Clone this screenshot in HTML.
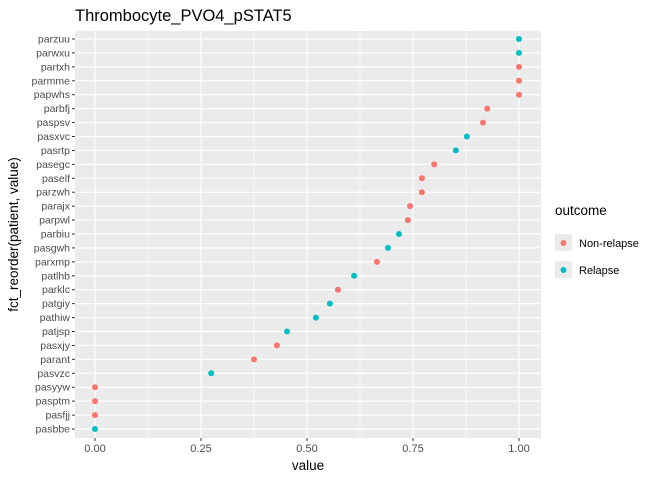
<!DOCTYPE html>
<html><head><meta charset="utf-8"><style>
body{margin:0;background:#fff;}
svg{display:block;font-family:"Liberation Sans",Arial,sans-serif;}
</style></head><body>
<svg id="chart" width="672" height="480"></svg>
<script>
const patients=["parzuu","parwxu","partxh","parmme","papwhs","parbfj","paspsv","pasxvc","pasrtp","pasegc","paself","parzwh","parajx","parpwl","parbiu","pasgwh","parxmp","patlhb","parklc","patgiy","pathiw","patjsp","pasxjy","parant","pasvzc","pasyyw","pasptm","pasfjj","pasbbe"];
const values=[1,1,1,1,1,0.925,0.915,0.877,0.851,0.80,0.771,0.771,0.743,0.738,0.717,0.691,0.665,0.611,0.573,0.554,0.521,0.453,0.429,0.375,0.274,0,0,0,0];
const outcomes=["R","R","N","N","N","N","N","R","R","N","N","N","N","N","R","R","N","R","N","R","R","R","N","N","R","N","N","N","R"];
const xTicks=[0,0.25,0.5,0.75,1];
const xTickLabels=["0.00","0.25","0.50","0.75","1.00"];
const colors={N:"#F8766D",R:"#00BFC4"};
const NS="http://www.w3.org/2000/svg";
const svg=document.getElementById('chart');
const L=75,R=541,T=31,B=438;
const x=v=>95+v*424;
const y=i=>39+i*(429-39)/(patients.length-1);
function mk(tag,attrs,parent){const e=document.createElementNS(NS,tag);for(const k in attrs)e.setAttribute(k,attrs[k]);(parent||svg).appendChild(e);return e;}
let e=mk('rect',{x:L,y:T,width:R-L,height:B-T,fill:'#EBEBEB'});


for(let i=0;i<xTicks.length-1;i++){const m=(xTicks[i]+xTicks[i+1])/2;
 e=mk('line',{x1:x(m),x2:x(m),y1:T,y2:B,stroke:'#fff','stroke-width':0.6});
 
 }
xTicks.forEach((t,i)=>{
 e=mk('line',{x1:x(t),x2:x(t),y1:T,y2:B,stroke:'#fff','stroke-width':1.2});
 
 
 e=mk('line',{x1:x(t),x2:x(t),y1:B,y2:B+3,stroke:'#333','stroke-width':1});
 
 
 e=mk('text',{x:x(t),y:B+14,'font-size':11,fill:'#4D4D4D','text-anchor':'middle'});e.textContent=xTickLabels[i];
 
 
});
patients.forEach((p,i)=>{
 e=mk('line',{x1:L,x2:R,y1:y(i),y2:y(i),stroke:'#fff','stroke-width':1.2});
 
 
 e=mk('line',{x1:L-3,x2:L,y1:y(i),y2:y(i),stroke:'#333','stroke-width':1});
 
 
 e=mk('text',{x:L-5,y:y(i)+3.5,'font-size':10.5,fill:'#4D4D4D','text-anchor':'end'});e.textContent=p;
 
 
});
patients.forEach((p,i)=>{
 e=mk('circle',{cx:x(values[i]),cy:y(i),r:3,fill:colors[outcomes[i]]});
 
 
});
e=mk('text',{x:L,y:21,'font-size':16.5,fill:'#000'});e.textContent='Thrombocyte_PVO4_pSTAT5';


e=mk('text',{x:(L+R)/2,y:470,'font-size':13.5,fill:'#000','text-anchor':'middle'});e.textContent='value';


e=mk('text',{x:0,y:0,'font-size':13.5,fill:'#000','text-anchor':'middle',transform:`translate(18,${(T+B)/2}) rotate(-90)`});e.textContent='fct_reorder(patient, value)';


e=mk('text',{x:555,y:215,'font-size':13.5,fill:'#000'});e.textContent='outcome';


[["N","Non-relapse",243],["R","Relapse",270]].forEach(([k,lab,yy])=>{
 e=mk('rect',{x:555,y:yy-9,width:17,height:17,fill:'#EBEBEB'});
 
 
 e=mk('circle',{cx:563.5,cy:yy,r:3,fill:colors[k]});
 
 
 e=mk('text',{x:579,y:yy+4,'font-size':11,fill:'#000'});e.textContent=lab;
 
 
});
</script>
</body></html>
